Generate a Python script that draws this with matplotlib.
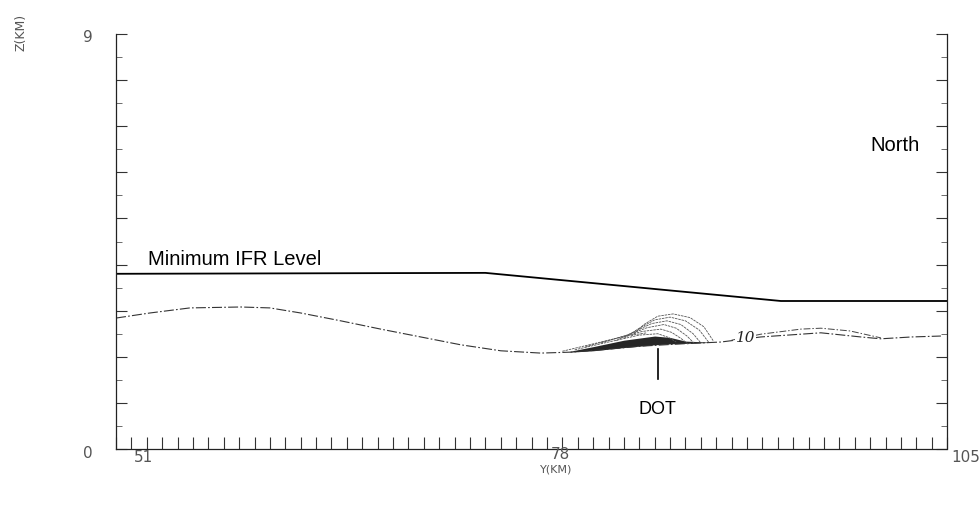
import numpy as np
import matplotlib
matplotlib.use("Agg")
import matplotlib.pyplot as plt

# horizontal range (km) and labels
y_min, y_mid, y_max = 51, 78, 105
z_min, z_max = 0, 9

# minimum IFR level (km)
ifr_y = [51.0, 75.0, 94.2, 105.0]
ifr_z = [3.80, 3.82, 3.21, 3.21]

# terrain profile (km)
terrain_y = [51.0, 53.2, 55.8, 59.1, 61.0, 63.0, 65.6, 68.2, 70.8, 73.4, 76.0,
             78.6, 80.5, 82.5, 85.1, 87.7, 90.3, 92.9, 95.5, 96.8, 99.4, 100.7,
             102.7, 104.6]
terrain_z = [2.84, 2.95, 3.06, 3.08, 3.06, 2.95, 2.78, 2.60, 2.43, 2.26, 2.13,
             2.08, 2.10, 2.15, 2.23, 2.28, 2.32, 2.43, 2.49, 2.52, 2.43, 2.39,
             2.43, 2.45]

# upper branch of the "10" contour east of the mountain
c10_y = [91.0, 92.9, 95.5, 96.8, 98.7, 100.7]
c10_z = [2.36, 2.49, 2.60, 2.62, 2.56, 2.41]

# contour arcs over the DOT mountain
arc1_y = [84.5, 85.3, 86.2, 87.2, 88.3, 89.2, 89.8]
arc1_z = [2.45, 2.70, 2.88, 2.93, 2.85, 2.65, 2.35]
arc2_y = [84.0, 85.0, 86.0, 87.0, 88.0, 88.9, 89.5]
arc2_z = [2.40, 2.62, 2.80, 2.86, 2.78, 2.58, 2.32]
arc3_y = [83.5, 84.7, 85.8, 86.8, 87.7, 88.5, 89.0]
arc3_z = [2.35, 2.55, 2.72, 2.78, 2.70, 2.50, 2.30]
arc4_y = [82.5, 84.3, 85.5, 86.6, 87.4, 88.1, 88.6]
arc4_z = [2.30, 2.48, 2.63, 2.70, 2.62, 2.45, 2.28]
arc5_y = [81.5, 83.5, 85.2, 86.4, 87.1, 87.7, 88.2]
arc5_z = [2.22, 2.40, 2.55, 2.60, 2.53, 2.40, 2.27]
arc6_y = [80.8, 83.0, 85.0, 86.2, 86.9, 87.4]
arc6_z = [2.15, 2.32, 2.47, 2.50, 2.42, 2.32]
arc7_y = [80.0, 82.0, 83.5, 84.5, 85.5]
arc7_z = [2.12, 2.28, 2.40, 2.47, 2.52]
arcs = [(arc1_y, arc1_z), (arc2_y, arc2_z), (arc3_y, arc3_z),
        (arc4_y, arc4_z), (arc5_y, arc5_z), (arc6_y, arc6_z),
        (arc7_y, arc7_z)]

# dense band at the foot of the mountain
band_y = [80.5, 82.0, 84.0, 86.0, 87.0, 88.0, 89.5]
band_lo = [2.10, 2.13, 2.20, 2.26, 2.28, 2.29, 2.31]
band_hi = [2.12, 2.22, 2.36, 2.45, 2.42, 2.34, 2.32]

dot_y = 86.2

fig = plt.figure(figsize=(9.8, 5.06), dpi=100)
ax = fig.add_axes([0.1184, 0.1107, 0.848, 0.82])
ax.set_xlim(y_min, y_max)
ax.set_ylim(z_min, z_max)

ax.plot(ifr_y, ifr_z, color="black", lw=1.3)
ax.plot(terrain_y, terrain_z, color="#333333", lw=0.8,
        linestyle=(0, (9, 2, 1.5, 2)))
ax.plot(c10_y, c10_z, color="#444444", lw=0.7, linestyle=(0, (7, 2, 1.5, 2)))

for ay, az in arcs:
    ax.plot(ay, az, color="#555555", lw=0.6, linestyle=(0, (3, 1)))
ax.fill_between(band_y, band_lo, band_hi, color="black", alpha=0.85, lw=0)

ax.text(91.9, 2.43, "10", fontsize=11, style="italic", family="DejaVu Serif",
        ha="center", va="center", color="#222222",
        bbox=dict(facecolor="white", edgecolor="none", pad=0.5))

ax.plot([dot_y, dot_y], [2.17, 1.52], color="black", lw=1.2)
ax.text(dot_y, 0.87, "DOT", fontsize=13, family="Liberation Sans",
        ha="center", va="center")
ax.text(53.1, 4.14, "Minimum IFR Level", fontsize=14.5,
        family="Liberation Sans", ha="left", va="center")
ax.text(101.6, 6.6, "North", fontsize=14.5, family="Liberation Sans",
        ha="center", va="center")

# axes look
ax.spines["top"].set_visible(False)
for s in ["left", "right", "bottom"]:
    ax.spines[s].set_linewidth(0.9)
    ax.spines[s].set_color("#222222")
ax.spines["bottom"].set_linestyle((0, (4, 1)))
ax.set_xticks(np.arange(y_min, y_max + 1, 1))
ax.set_yticks(np.arange(z_min, z_max + 1, 1))
ax.set_yticks(np.arange(z_min, z_max + 0.5, 0.5), minor=True)
ax.tick_params(axis="x", direction="in", length=9, width=0.8,
               color="#333333", labelbottom=False)
ax.tick_params(axis="y", direction="in", length=8, width=0.8,
               color="#333333", labelleft=False, right=True)
ax.tick_params(axis="y", which="minor", direction="in", length=4,
               width=0.6, color="#555555", right=True)

# tick labels placed the way the original plotter did
lab = dict(fontsize=11, color="#555555", family="DejaVu Sans",
           transform=fig.transFigure, ha="center", va="center")
fig.text(143 / 980, 1 - 458 / 506, str(y_min), **lab)
fig.text(560 / 980, 1 - 455 / 506, str(y_mid), **lab)
fig.text(966 / 980, 1 - 458 / 506, str(y_max), **lab)
fig.text(88 / 980, 1 - 38 / 506, str(z_max), **lab)
fig.text(88 / 980, 1 - 453 / 506, str(z_min), **lab)
fig.text(556 / 980, 1 - 470 / 506, "Y(KM)", fontsize=8, color="#555555",
         ha="center", va="center")
fig.text(21 / 980, 1 - 32 / 506, "Z(KM)", fontsize=9, color="#555555",
         rotation=90, ha="center", va="center")

fig.savefig("out.png", dpi=100)
